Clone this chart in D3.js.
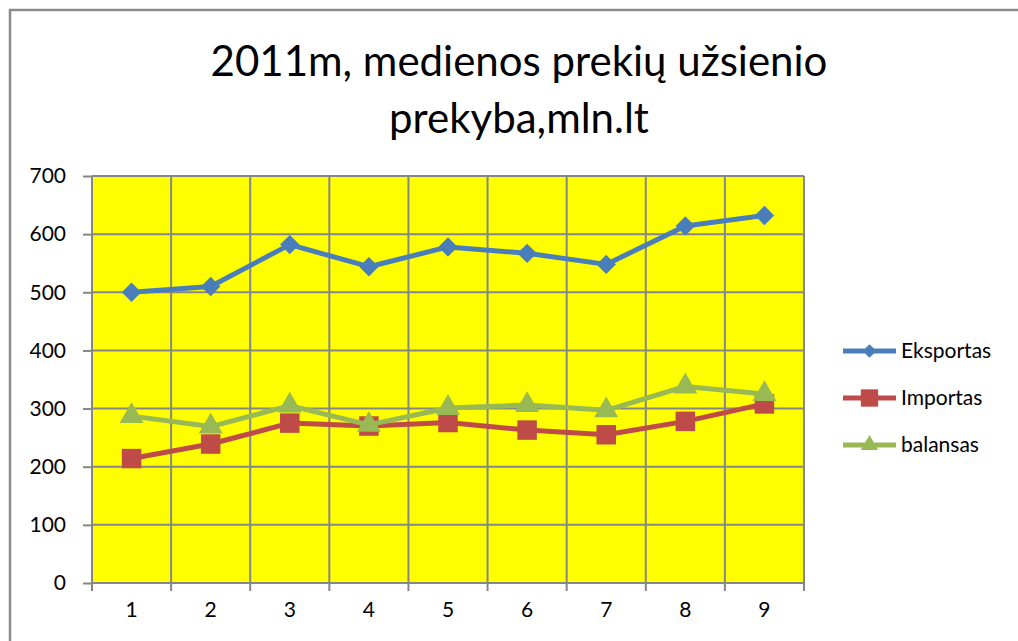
<!DOCTYPE html>
<html>
<head>
<meta charset="utf-8">
<script src="https://cdn.jsdelivr.net/npm/d3@7"></script>
<style>
  body { margin: 0; background: #fff; }
  svg { display: block; font-family: Lato, "Open Sans", sans-serif; }
</style>
</head>
<body>
<div id="chart"></div>
<script>
const width = 1018;
const height = 641;

// Data
const categories = ["1", "2", "3", "4", "5", "6", "7", "8", "9"];
const eksportas = [500, 510, 582, 544, 578, 567, 548, 614, 632];
const importas = [214, 239, 275, 270, 276, 263, 255, 278, 308];
const balansas = [287, 269, 305, 272, 301, 306, 297, 338, 325];
const yTicks = [0, 100, 200, 300, 400, 500, 600, 700];
const titleLines = ["2011m, medienos prekių užsienio", "prekyba,mln.lt"];

const series = [
    { name: "Eksportas", values: eksportas, color: "#4a7ebb", shape: d3.symbolDiamond2, size: 240, legendSize: 120 },
    { name: "Importas", values: importas, color: "#be4b48", shape: d3.symbolSquare, size: 380, legendSize: 300 },
    { name: "balansas", values: balansas, color: "#98b954", shape: d3.symbolTriangle, size: 250, legendSize: 130 }
];

const margin = { top: 176, right: 214, bottom: 58, left: 92 };
const plotW = width - margin.left - margin.right;
const plotH = height - margin.top - margin.bottom;

const svg = d3.select("#chart")
    .append("svg")
    .attr("width", width)
    .attr("height", height);

// Chart area border
svg.append("rect")
    .attr("x", 10)
    .attr("y", 10)
    .attr("width", width + 20)
    .attr("height", height + 20)
    .attr("fill", "#fff")
    .attr("stroke", "#8c8c8c")
    .attr("stroke-width", 2.5);

// Title
svg.append("text")
    .attr("x", 519)
    .attr("y", 76)
    .attr("text-anchor", "middle")
    .style("font-size", "42px")
    .style("fill", "#000")
    .selectAll("tspan")
    .data(titleLines)
    .enter()
    .append("tspan")
    .attr("x", 519)
    .attr("dy", (d, i) => i === 0 ? 0 : 57)
    .text(d => d);

const g = svg.append("g")
    .attr("transform", `translate(${margin.left}, ${margin.top})`);

const x = d3.scaleBand()
    .domain(categories)
    .range([0, plotW]);

const y = d3.scaleLinear()
    .domain([0, 700])
    .range([plotH, 0]);

// Plot area
g.append("rect")
    .attr("width", plotW)
    .attr("height", plotH)
    .attr("fill", "#ffff00");

// Horizontal gridlines
g.append("g")
    .selectAll("line")
    .data(yTicks)
    .enter()
    .append("line")
    .attr("x1", 0)
    .attr("x2", plotW)
    .attr("y1", d => y(d))
    .attr("y2", d => y(d))
    .attr("stroke", "#868686")
    .attr("stroke-width", 2);

// Vertical gridlines at category boundaries
const boundaries = categories.map(c => x(c)).concat([plotW]);
g.append("g")
    .selectAll("line")
    .data(boundaries)
    .enter()
    .append("line")
    .attr("x1", d => d)
    .attr("x2", d => d)
    .attr("y1", 0)
    .attr("y2", plotH + 8)
    .attr("stroke", "#868686")
    .attr("stroke-width", 2);

// Y axis
const yAxis = g.append("g")
    .call(d3.axisLeft(y).tickValues(yTicks).tickSize(9).tickPadding(17));
yAxis.attr("font-family", null);
yAxis.select(".domain").remove();
yAxis.selectAll(".tick line").attr("stroke", "#868686").attr("stroke-width", 2);
yAxis.selectAll("text")
    .style("font-size", "21px")
    .style("fill", "#000");

// X axis labels
const xAxis = g.append("g")
    .attr("transform", `translate(0, ${plotH})`)
    .call(d3.axisBottom(x).tickSize(0).tickPadding(19));
xAxis.attr("font-family", null);
xAxis.select(".domain").remove();
xAxis.selectAll("text")
    .style("font-size", "21px")
    .style("fill", "#000");

// Series lines and markers
const line = d3.line()
    .x((d, i) => x(categories[i]) + x.bandwidth() / 2)
    .y(d => y(d));

series.forEach(s => {
    g.append("path")
        .datum(s.values)
        .attr("d", line)
        .attr("fill", "none")
        .attr("stroke", s.color)
        .attr("stroke-width", 5)
        .attr("stroke-linejoin", "round");

    g.append("g")
        .selectAll("path")
        .data(s.values)
        .enter()
        .append("path")
        .attr("transform", (d, i) => `translate(${x(categories[i]) + x.bandwidth() / 2}, ${y(d)})`)
        .attr("d", d3.symbol().type(s.shape).size(s.size))
        .attr("fill", s.color);
});

// Legend
const legend = svg.append("g")
    .attr("transform", "translate(843, 351)");

const legendItems = legend.selectAll("g")
    .data(series)
    .enter()
    .append("g")
    .attr("transform", (d, i) => `translate(0, ${i * 47})`);

legendItems.append("line")
    .attr("x1", 0)
    .attr("x2", 53)
    .attr("stroke", d => d.color)
    .attr("stroke-width", 5);

legendItems.append("path")
    .attr("transform", "translate(26.5, 0)")
    .attr("d", d => d3.symbol().type(d.shape).size(d.legendSize)())
    .attr("fill", d => d.color);

legendItems.append("text")
    .attr("x", 58)
    .attr("y", 7)
    .style("font-size", "21px")
    .style("fill", "#000")
    .text(d => d.name);
</script>
</body>
</html>
